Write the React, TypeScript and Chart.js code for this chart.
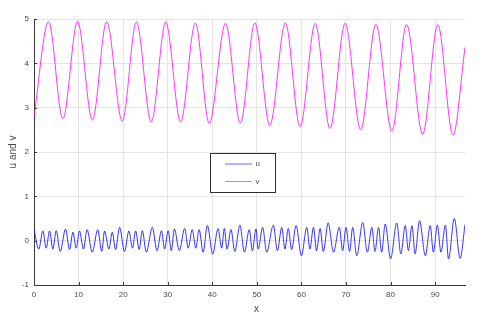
import React, { useEffect, useRef } from 'react';
import { Chart, registerables } from 'chart.js';

Chart.register(...registerables);

// v: extremes (troughs / peaks)
const vX = [0, 3.26, 6.47, 9.78, 13.1, 16.3, 19.8, 22.97, 26.3, 29.55, 32.9, 36.2, 39.3, 42.97, 46.3, 49.55, 52.9, 56.4, 59.7, 63.1, 66.4, 69.8, 73.3, 76.7, 80.3, 83.6, 87.2, 90.6, 94.0, 96.7];
const vY = [2.8, 4.94, 2.75, 4.94, 2.72, 4.94, 2.7, 4.93, 2.68, 4.93, 2.68, 4.91, 2.65, 4.9, 2.65, 4.91, 2.6, 4.91, 2.57, 4.9, 2.53, 4.9, 2.5, 4.88, 2.47, 4.875, 2.4, 4.87, 2.38, 4.36];

// u: extremes
const uX = [0, 1.08, 1.99, 2.74, 3.49, 4.23, 4.98, 5.88, 7.08, 7.98, 8.73, 9.47, 10.2, 11.1, 11.9, 13.07, 14.3, 15.2,
  15.84, 16.8, 17.57, 18.3, 19.2, 20.3, 21.3, 22.1, 22.8, 23.6, 24.3, 25.2, 26.55, 27.6, 28.6, 29.3, 30.1, 30.8,
  31.5, 32.6, 33.8, 34.6, 35.5, 36.3, 37.05, 37.95, 38.9, 40.1, 41.3, 42.1, 42.7, 43.3, 44.2, 45.05, 46.2, 47.2,
  48.3, 49.0, 49.8, 50.3, 51.3, 52.2, 53.7, 54.6, 55.6, 56.3, 57.05, 57.8, 58.8, 60.0, 61.2, 61.9, 62.7,
  63.4, 64.2, 64.9, 66.0, 67.2, 68.5, 69.25, 70.0, 70.8, 71.5, 72.4, 73.75, 74.8, 75.8, 76.5, 77.3, 78.0,
  78.8, 80.0, 81.4, 82.3, 83.3, 84.0, 84.8, 85.5, 86.5, 87.8, 88.9, 89.6, 90.5, 91.3, 92.3, 93.0, 94.3, 95.6, 96.7];
const uY = [0.25, -0.19, 0.22, -0.17, 0.22, -0.19, 0.225, -0.245, 0.263, -0.2, 0.19, -0.17, 0.22, -0.19, 0.25, -0.26, 0.25, -0.245,
  0.22, -0.19, 0.19, -0.2, 0.3, -0.245, 0.22, -0.17, 0.22, -0.2, 0.225, -0.26, 0.3, -0.225, 0.225, -0.19, 0.225, -0.225,
  0.26, -0.225, 0.275, -0.17, 0.25, -0.17, 0.25, -0.26, 0.34, -0.3, 0.275, -0.17, 0.275, -0.19, 0.25, -0.245, 0.35, -0.26,
  0.25, -0.225, 0.263, -0.19, 0.3, -0.26, 0.35, -0.225, 0.3, -0.19, 0.275, -0.2, 0.34, -0.34, 0.3, -0.19, 0.3,
  -0.225, 0.275, -0.245, 0.4, -0.26, 0.3, -0.225, 0.3, -0.245, 0.3, -0.34, 0.41, -0.26, 0.3, -0.245, 0.3, -0.26,
  0.376, -0.41, 0.4, -0.3, 0.34, -0.225, 0.34, -0.3, 0.45, -0.34, 0.34, -0.26, 0.35, -0.26, 0.35, -0.41, 0.5, -0.4, 0.36];

const xTicks = [0, 10, 20, 30, 40, 50, 60, 70, 80, 90];
const yTicks = [-1, 0, 1, 2, 3, 4, 5];
const xRange = [0, 96.7];
const yRange = [-1, 5];
const seriesNames = ['u', 'v'];
const seriesColors = ['#0000ff', '#ff00ff'];
const xLabel = 'x';
const yLabel = 'u and v';

const FONT = '"Liberation Sans", Arial, Helvetica, sans-serif';
const TEXT = '#4a4a4a';
const AXIS = '#3a3a3a';

const decor = {
  id: 'decor',
  afterDraw(chart: any) {
    const ctx = chart.ctx;
    const ca = chart.chartArea;
    const xs = chart.scales.x;
    const ys = chart.scales.y;
    ctx.save();
    // inward ticks
    ctx.strokeStyle = AXIS;
    ctx.lineWidth = 1;
    ctx.beginPath();
    xTicks.forEach((v) => {
      const p = Math.round(xs.getPixelForValue(v)) + 0.5;
      ctx.moveTo(p, ca.bottom);
      ctx.lineTo(p, ca.bottom - 3);
    });
    yTicks.forEach((v) => {
      const p = Math.round(ys.getPixelForValue(v)) + 0.5;
      ctx.moveTo(ca.left, p);
      ctx.lineTo(ca.left + 3, p);
    });
    ctx.stroke();

    // axis titles
    ctx.fillStyle = TEXT;
    ctx.font = `10px ${FONT}`;
    ctx.textAlign = 'center';
    ctx.textBaseline = 'middle';
    ctx.fillText(xLabel, 256.5, 309);
    ctx.translate(13, (ca.top + ca.bottom) / 2);
    ctx.rotate(-Math.PI / 2);
    ctx.fillText(yLabel, 0, 0);
    ctx.restore();

    // legend box
    ctx.save();
    const bx = 210.5, by = 153.5, bw = 65, bh = 39;
    ctx.fillStyle = '#ffffff';
    ctx.fillRect(bx, by, bw, bh);
    ctx.strokeStyle = '#303030';
    ctx.lineWidth = 1;
    ctx.strokeRect(bx, by, bw, bh);
    const rows = [164, 181.5];
    seriesNames.forEach((name, i) => {
      ctx.strokeStyle = seriesColors[i];
      ctx.globalAlpha = 0.6;
      ctx.beginPath();
      ctx.moveTo(225, rows[i]);
      ctx.lineTo(252, rows[i]);
      ctx.stroke();
      ctx.globalAlpha = 1;
      ctx.fillStyle = TEXT;
      ctx.font = `8px ${FONT}`;
      ctx.textAlign = 'left';
      ctx.textBaseline = 'middle';
      ctx.fillText(name, 255.5, rows[i]);
    });
    ctx.restore();
  },
};

export default function App() {
  const ref = useRef<HTMLCanvasElement | null>(null);
  useEffect(() => {
    document.body.style.margin = '0';
    const canvas = ref.current;
    if (!canvas) return;
    const toPts = (xs: number[], ys: number[]) => xs.map((x, i) => ({ x, y: ys[i] }));
    const chart = new Chart(canvas, {
      type: 'line',
      data: {
        datasets: [
          {
            label: seriesNames[0],
            data: toPts(uX, uY),
            borderColor: seriesColors[0],
            borderWidth: 0.8,
            pointRadius: 0,
            cubicInterpolationMode: 'monotone',
            fill: false,
          },
          {
            label: seriesNames[1],
            data: toPts(vX, vY),
            borderColor: seriesColors[1],
            borderWidth: 0.8,
            pointRadius: 0,
            cubicInterpolationMode: 'monotone',
            fill: false,
          },
        ],
      },
      options: {
        animation: false,
        responsive: false,
        devicePixelRatio: 1,
        layout: { padding: { left: 0, right: 29, top: 19, bottom: 0 } },
        plugins: { legend: { display: false }, tooltip: { enabled: false } },
        scales: {
          x: {
            type: 'linear',
            min: xRange[0],
            max: xRange[1],
            afterBuildTicks: (s: any) => { s.ticks = xTicks.map((v) => ({ value: v })); },
            afterFit: (s: any) => { s.height = 36; },
            ticks: { font: { size: 8, family: FONT }, color: TEXT, padding: 5, maxRotation: 0 },
            grid: { color: '#e4e4e4', drawTicks: false, lineWidth: 1 },
            border: { color: AXIS, width: 1 },
          },
          y: {
            type: 'linear',
            min: yRange[0],
            max: yRange[1],
            afterBuildTicks: (s: any) => { s.ticks = yTicks.map((v) => ({ value: v })); },
            afterFit: (s: any) => { s.width = 34; },
            ticks: { font: { size: 8, family: FONT }, color: TEXT, padding: 5 },
            grid: { color: '#e4e4e4', drawTicks: false, lineWidth: 1 },
            border: { color: AXIS, width: 1 },
          },
        },
      },
      plugins: [decor],
    });
    return () => chart.destroy();
  }, []);
  return (
    <div style={{ width: 494, height: 321 }}>
      <canvas ref={ref} width={494} height={321} style={{ display: 'block' }} />
    </div>
  );
}
